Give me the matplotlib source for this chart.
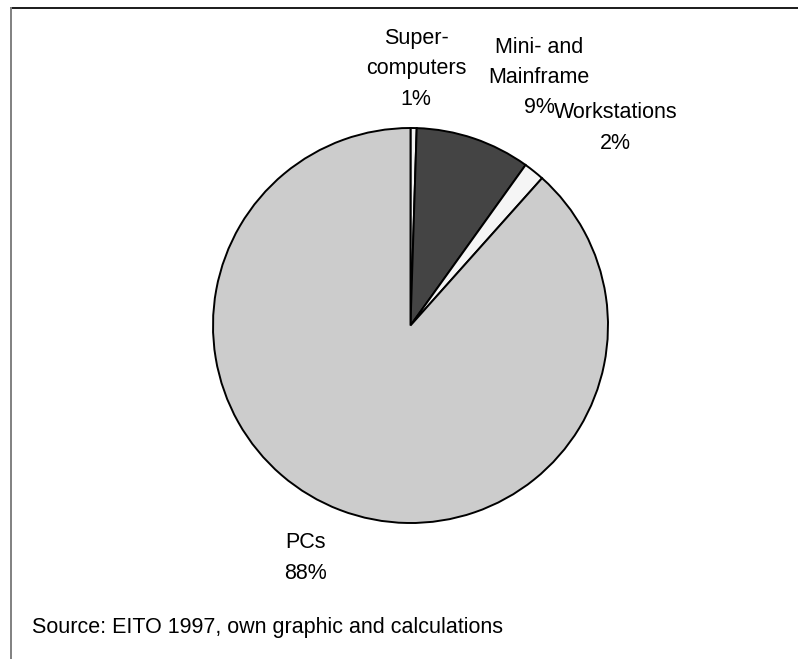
import matplotlib.pyplot as plt
from matplotlib.lines import Line2D

plt.rcParams['font.family'] = ['Liberation Sans', 'DejaVu Sans']

categories = ["Super-\ncomputers", "Mini- and\nMainframe", "Workstations", "PCs"]
shares = [0.5, 9.4, 1.7, 88.4]
colors = ["#f2f2f2", "#444444", "#f5f5f5", "#cccccc"]
# label centres in pie units (radius = 1)
label_pos = [(0.028, 1.30), (0.651, 1.255), (1.038, 1.0), (-0.534, -1.177)]
source = "Source: EITO 1997, own graphic and calculations"

W, H = 798, 659
fig = plt.figure(figsize=(W / 100, H / 100), dpi=100)

# pie centre (410.5, 325.5) px, radius 197.5 px
cx, cy, r = 410.5, 325.5, 197.5
ax = fig.add_axes([(cx - r) / W, (H - cy - r) / H, 2 * r / W, 2 * r / H])
ax.pie(shares, colors=colors, startangle=90, counterclock=False,
       wedgeprops=dict(edgecolor="black", linewidth=1.4), radius=1)
ax.set_xlim(-1, 1)
ax.set_ylim(-1, 1)
ax.set_aspect("equal")
ax.axis("off")

for name, val, (lx, ly) in zip(categories, shares, label_pos):
    ax.text(lx, ly, f"{name}\n{int(val + 0.5)}%", ha="center", va="center",
            fontsize=15.5, linespacing=1.58, clip_on=False)

fig.text(32 / W, 1 - 627 / H, source, fontsize=15.5, va="center", ha="left")

# frame lines (top and left)
fig.add_artist(Line2D([11 / W, 1], [1 - 8.3 / H, 1 - 8.3 / H], transform=fig.transFigure,
                      color="#1a1a1a", linewidth=1.4))
fig.add_artist(Line2D([11 / W, 11 / W], [0, 1 - 8.3 / H], transform=fig.transFigure,
                      color="#808080", linewidth=1.4))

fig.savefig("out.png", dpi=100)
